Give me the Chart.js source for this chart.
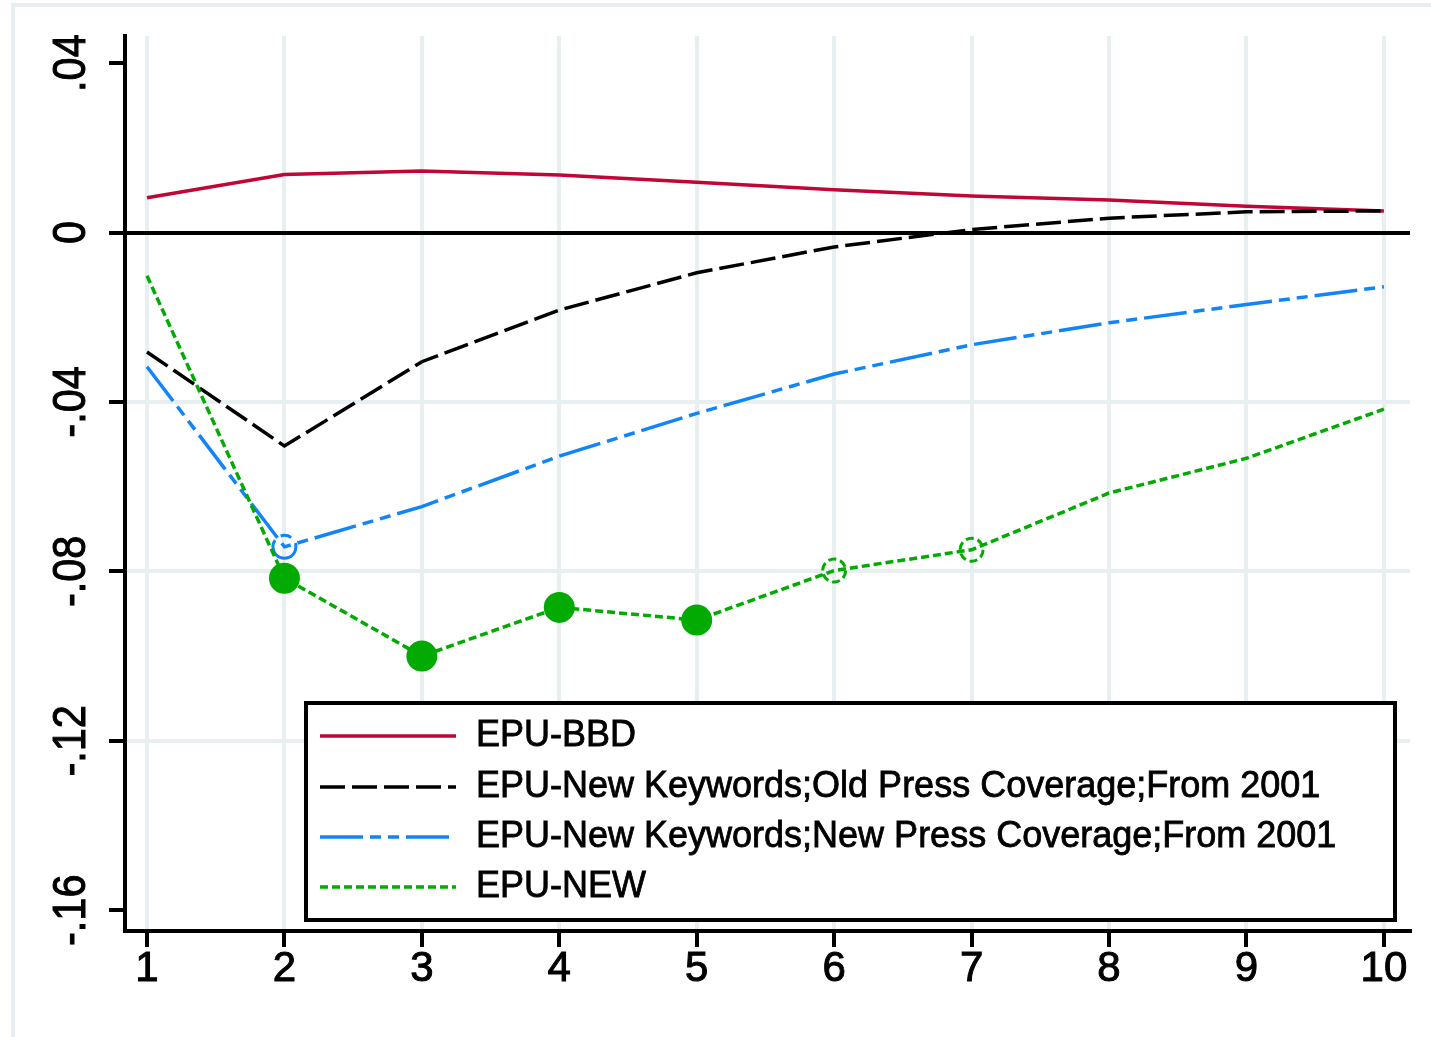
<!DOCTYPE html>
<html>
<head>
<meta charset="utf-8">
<title>EPU impulse responses</title>
<script src="https://cdn.jsdelivr.net/npm/chart.js@4.4.1/dist/chart.umd.min.js"></script>
<style>
  html, body { margin: 0; padding: 0; background: #ffffff; }
  #wrap { width: 1431px; height: 1037px; position: relative; }
  canvas { display: block; }
</style>
</head>
<body>
<div id="wrap"><canvas id="chart" width="1431" height="1037"></canvas></div>
<script>
// Horizon (periods after the shock)
const steps = [1, 2, 3, 4, 5, 6, 7, 8, 9, 10];

// Responses of each uncertainty measure
const epuBBD      = [0.0082, 0.0137, 0.0145, 0.0136, 0.0119, 0.0101, 0.0086, 0.0077, 0.0062, 0.0051];
const epuOldPress = [-0.0282, -0.0504, -0.0305, -0.0183, -0.0095, -0.0034, 0.0007, 0.0034, 0.0049, 0.0051];
const epuNewPress = [-0.0317, -0.0742, -0.0647, -0.0528, -0.0427, -0.0334, -0.0265, -0.0213, -0.0170, -0.0128];
const epuNEW      = [-0.0102, -0.0816, -0.1000, -0.0885, -0.0915, -0.0798, -0.0749, -0.0615, -0.0533, -0.0417];

// Marker kind per period: 'f' filled, 'o' hollow, '' none
const newPressMarks = ['', 'o', '', '', '', '', '', '', '', ''];
const newMarks      = ['', 'f', 'f', 'f', 'f', 'o', 'o', '', '', ''];

// Series names
const seriesNames = [
  'EPU-BBD',
  'EPU-New Keywords;Old Press Coverage;From 2001',
  'EPU-New Keywords;New Press Coverage;From 2001',
  'EPU-NEW'
];

// Axis ticks
const xTicks = [1, 2, 3, 4, 5, 6, 7, 8, 9, 10];
const yTickValues = [0.04, 0, -0.04, -0.08, -0.12, -0.16];
const yTickLabels = ['.04', '0', '-.04', '-.08', '-.12', '-.16'];

const FONT = "'Liberation Sans', Arial, Helvetica, sans-serif";
const GRID = '#e7eff1';

const toXY = arr => arr.map((v, i) => ({ x: steps[i], y: v }));
const radii = (marks, rf, ro) => marks.map(m => m === 'f' ? rf : (m === 'o' ? ro : 0));
const fills = (marks, c) => marks.map(m => m === 'f' ? c : 'rgba(0,0,0,0)');
const borders = (marks, wf, wo) => marks.map(m => m === 'f' ? wf : wo);

// Hollow points are stroked with the dataset's own dash pattern
const markerDash = {
  id: 'markerDash',
  beforeDatasetDraw(chart, args) {
    const ds = chart.data.datasets[args.index];
    chart.ctx.setLineDash(ds.borderDash || []);
  },
  afterDatasetDraw(chart) {
    chart.ctx.setLineDash([]);
  }
};

// Frame, zero line
const backdrop = {
  id: 'backdrop',
  beforeDraw(chart) {
    const ctx = chart.ctx;
    ctx.save();
    ctx.fillStyle = '#ffffff';
    ctx.fillRect(0, 0, chart.width, chart.height);
    ctx.strokeStyle = '#e6eef1';
    ctx.lineWidth = 4;
    ctx.strokeRect(13, 5, chart.width + 20, chart.height - 3);
    ctx.restore();
  },
  beforeDatasetsDraw(chart) {
    const ctx = chart.ctx;
    const a = chart.chartArea;
    const y = Math.round(chart.scales.y.getPixelForValue(0));
    ctx.save();
    ctx.strokeStyle = '#000';
    ctx.lineWidth = 4;
    ctx.beginPath();
    ctx.moveTo(a.left, y);
    ctx.lineTo(a.right, y);
    ctx.stroke();
    ctx.restore();
  }
};

// Rotated y tick labels
const yLabels = {
  id: 'yLabels',
  afterDraw(chart) {
    const ctx = chart.ctx;
    const ys = chart.scales.y;
    ctx.save();
    ctx.fillStyle = '#000';
    ctx.strokeStyle = '#000';
    ctx.lineWidth = 1;
    ctx.font = '46px ' + FONT;
    ctx.textAlign = 'center';
    ctx.textBaseline = 'middle';
    yTickValues.forEach((v, i) => {
      const py = ys.getPixelForValue(v);
      ctx.save();
      ctx.translate(72, py);
      ctx.rotate(-Math.PI / 2);
      ctx.scale(0.9, 1);
      ctx.fillText(yTickLabels[i], 0, 0);
      ctx.strokeText(yTickLabels[i], 0, 0);
      ctx.restore();
    });
    ctx.restore();
  }
};

// Boxed legend inside the plot
const boxLegend = {
  id: 'boxLegend',
  afterDraw(chart) {
    const ctx = chart.ctx;
    const box = { x: 306, y: 703, w: 1089, h: 217 };
    ctx.save();
    ctx.fillStyle = '#fff';
    ctx.fillRect(box.x, box.y, box.w, box.h);
    ctx.strokeStyle = '#000';
    ctx.lineWidth = 4;
    ctx.strokeRect(box.x, box.y, box.w, box.h);
    const rows = [736, 787, 837, 887];
    ctx.font = '36px ' + FONT;
    ctx.textBaseline = 'middle';
    ctx.textAlign = 'left';
    chart.data.datasets.forEach((ds, i) => {
      const y = rows[i];
      ctx.strokeStyle = ds.borderColor;
      ctx.lineWidth = ds.borderWidth;
      ctx.setLineDash(ds.borderDash || []);
      ctx.beginPath();
      ctx.moveTo(320, y);
      ctx.lineTo(456, y);
      ctx.stroke();
      ctx.setLineDash([]);
      ctx.fillStyle = '#000';
      ctx.strokeStyle = '#000';
      ctx.lineWidth = 0.8;
      ctx.fillText(ds.label, 476, y);
      ctx.strokeText(ds.label, 476, y);
    });
    ctx.restore();
  }
};

const chart = new Chart(document.getElementById('chart'), {
  type: 'line',
  data: {
    datasets: [
      {
        label: seriesNames[0],
        data: toXY(epuBBD),
        borderColor: '#c10534',
        borderWidth: 3.5,
        borderDash: [],
        pointRadius: 0,
        order: 4
      },
      {
        label: seriesNames[1],
        data: toXY(epuOldPress),
        borderColor: '#000000',
        borderWidth: 3.5,
        borderDash: [25, 7],
        pointRadius: 0,
        order: 3
      },
      {
        label: seriesNames[2],
        data: toXY(epuNewPress),
        borderColor: '#1185f8',
        borderWidth: 3.5,
        borderDash: [43, 7, 11, 7, 11, 7],
        pointRadius: radii(newPressMarks, 15, 11.5),
        pointBackgroundColor: fills(newPressMarks, '#1185f8'),
        pointBorderColor: '#1185f8',
        pointBorderWidth: borders(newPressMarks, 0, 3),
        order: 2
      },
      {
        label: seriesNames[3],
        data: toXY(epuNEW),
        borderColor: '#02aa02',
        borderWidth: 3.5,
        borderDash: [8, 4],
        pointRadius: radii(newMarks, 15.5, 11.5),
        pointBackgroundColor: fills(newMarks, '#02aa02'),
        pointBorderColor: '#02aa02',
        pointBorderWidth: borders(newMarks, 0, 3),
        order: 1
      }
    ]
  },
  options: {
    responsive: false,
    animation: false,
    devicePixelRatio: 1,
    layout: { padding: { top: 36, right: 21, left: 0, bottom: 0 } },
    elements: { line: { tension: 0 } },
    plugins: {
      legend: { display: false },
      tooltip: { enabled: false }
    },
    scales: {
      x: {
        type: 'linear',
        min: 0.84,
        max: 10.19,
        afterBuildTicks(scale) { scale.ticks = xTicks.map(v => ({ value: v })); },
        afterFit(scale) { scale.height = 106; },
        grid: {
          color: GRID,
          lineWidth: 4,
          tickColor: '#000',
          tickWidth: 4,
          tickLength: 16,
          drawTicks: true
        },
        border: { display: true, color: '#000', width: 4 },
        ticks: {
          color: '#000',
          font: { family: FONT, size: 42, lineHeight: 1 },
          padding: 1,
          textStrokeColor: '#000',
          textStrokeWidth: 1,
          maxRotation: 0,
          minRotation: 0,
          autoSkip: false,
          callback: v => String(v)
        }
      },
      y: {
        type: 'linear',
        min: -0.1649,
        max: 0.0464,
        afterBuildTicks(scale) { scale.ticks = yTickValues.map(v => ({ value: v })); },
        afterFit(scale) { scale.width = 125; },
        grid: {
          color: c => {
            const v = c.tick ? c.tick.value : null;
            if (v === null) return GRID;
            if (Math.abs(v) < 1e-9 || Math.abs(v - 0.04) < 1e-9 || Math.abs(v + 0.16) < 1e-9) return 'rgba(0,0,0,0)';
            return GRID;
          },
          lineWidth: 4,
          tickColor: '#000',
          tickWidth: 4,
          tickLength: 16,
          drawTicks: true
        },
        border: { display: true, color: '#000', width: 4 },
        ticks: { display: false }
      }
    }
  },
  plugins: [backdrop, markerDash, yLabels, boxLegend]
});
</script>
</body>
</html>
